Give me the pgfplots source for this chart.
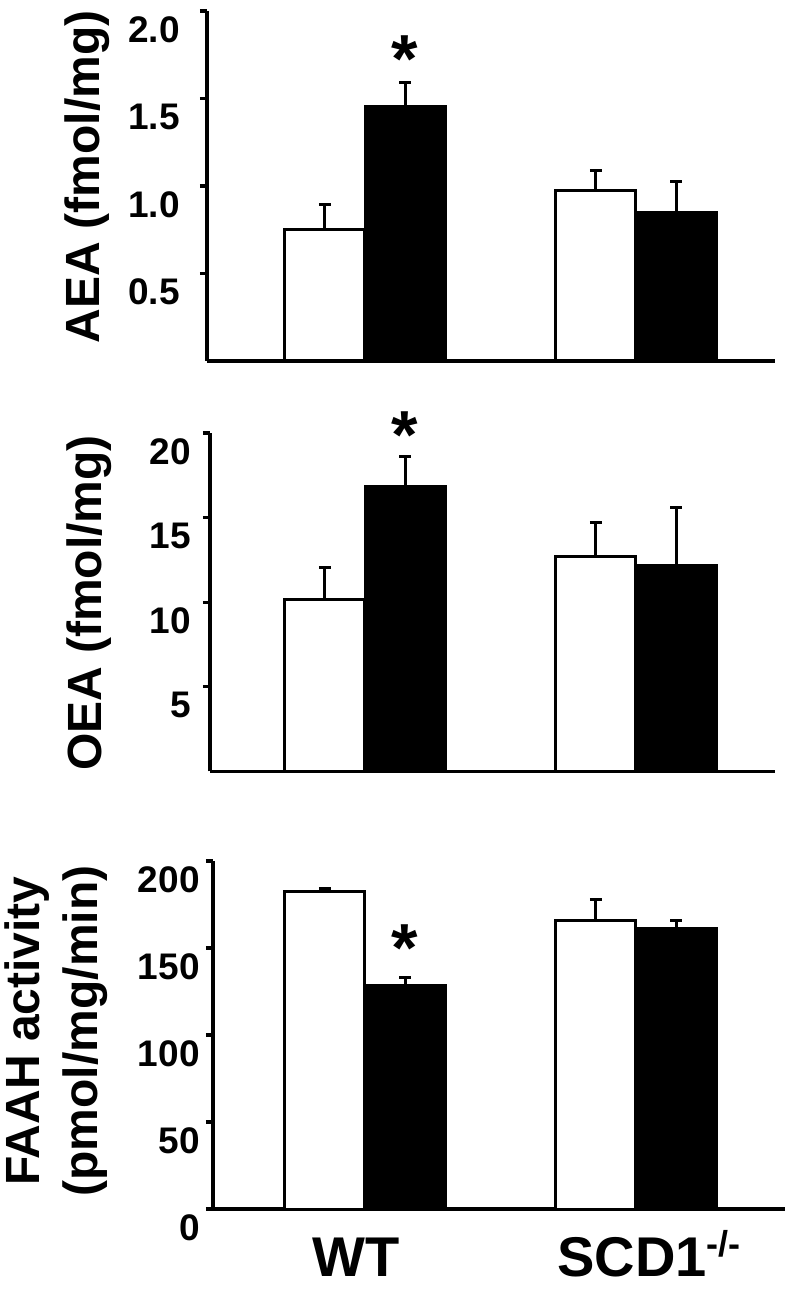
\documentclass[border=0pt]{standalone}
\usepackage{fontspec}
\setmainfont{Liberation Sans}
\usepackage{pgfplots}
\pgfplotsset{compat=1.18}
\begin{document}
\begin{tikzpicture}
\useasboundingbox (0,0) rectangle (393.5pt,649pt);
\pgfplotsset{
  panel/.style={scale only axis, axis x line=bottom, axis y line=left,
    axis line style={-, line width=1.6pt, black},
    tick align=outside, major tick length=3.5pt,
    tick style={line width=1.6pt, black},
    xtick=\empty, ymin=0, clip=false,
    /pgf/number format/assume math mode=true,
    yticklabel style={font=\fontsize{18.5}{18.5}\bfseries\selectfont, anchor=north east, inner sep=0pt, yshift=-2.5pt}},
  ebar/.style={ybar, bar width=40pt, bar shift=0pt, draw=black, line width=1.5pt,
    error bars/y dir=plus, error bars/y explicit,
    error bars/error mark=|,
    error bars/error bar style={line width=1.5pt, black, solid},
    error bars/error mark options={line width=1.5pt, mark size=3pt, black, solid}},
  wbar/.style={ebar, fill=white},
  bbar/.style={ebar, fill=black},
}
\tikzset{astk/.style={anchor=base, inner sep=0pt, font=\fontsize{34}{34}\bfseries\selectfont},
  ylab/.style={rotate=90, anchor=base, inner sep=0pt, font=\fontsize{24}{24}\bfseries\selectfont}}
% Panel 1: AEA
\begin{axis}[panel, at={(103.5pt,468.5pt)}, anchor=south west, width=284pt, height=175pt,
  xmin=0.417, xmax=2.513, ymax=2, ytick={0.5,1,1.5,2}, yticklabels={0.5,1.0,1.5,2.0},
  yticklabel style={xshift=-10pt}]
\addplot[wbar] coordinates {(0.852,0.753) +- (0,0.140) (1.852,0.973) +- (0,0.118)};
\addplot[bbar] coordinates {(1.148,1.453) +- (0,0.140) (2.148,0.851) +- (0,0.174)};
\node[astk] at (axis cs:1.148,1.594) {*};
\end{axis}
% Panel 2: OEA
\begin{axis}[panel, at={(105pt,263.25pt)}, anchor=south west, width=282.5pt, height=169.25pt,
  xmin=0.428, xmax=2.513, ymax=20, ytick={5,10,15,20},
  yticklabel style={xshift=-6pt}]
\addplot[wbar] coordinates {(0.852,10.19) +- (0,1.87) (1.852,12.71) +- (0,1.98)};
\addplot[bbar] coordinates {(1.148,16.82) +- (0,1.81) (2.148,12.20) +- (0,3.41)};
\node[astk] at (axis cs:1.148,18.5) {*};
\end{axis}
% Panel 3: FAAH
\begin{axis}[panel, at={(106.5pt,44.5pt)}, anchor=south west, width=286pt, height=174pt,
  xmin=0.439, xmax=2.550, ymax=200, ytick={0,50,100,150,200},
  yticklabel style={xshift=-3pt},
  xtick={0.967,2.048}, xticklabels={WT, SCD1\raisebox{10pt}{\fontsize{18}{18}\selectfont -/-}},
  x tick style={draw=none},
  xticklabel style={font=\fontsize{28}{28}\bfseries\selectfont, anchor=base, inner sep=0pt, yshift=-30.5pt}]
\addplot[wbar] coordinates {(0.852,182.4) +- (0,1.9) (1.852,165.7) +- (0,12.3)};
\addplot[bbar] coordinates {(1.148,128.2) +- (0,5.0) (2.148,161.3) +- (0,4.4)};
\node[astk] at (axis cs:1.148,136.7) {*};
\end{axis}
\node[ylab] at (50pt,560.5pt) {AEA (fmol/mg)};
\node[ylab] at (50.5pt,347.5pt) {OEA (fmol/mg)};
\node[ylab] at (20pt,133.5pt) {FAAH activity};
\node[ylab] at (49pt,133.5pt) {(pmol/mg/min)};
\end{tikzpicture}
\end{document}
